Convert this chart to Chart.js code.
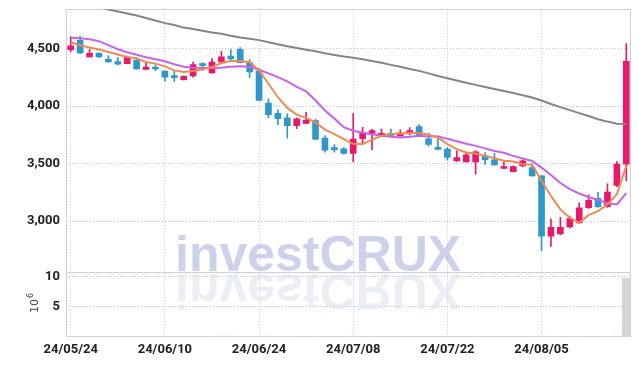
<!DOCTYPE html>
<html>
<head>
<meta charset="utf-8">
<script src="https://cdn.jsdelivr.net/npm/chart.js@4.4.1/dist/chart.umd.min.js"></script>
<style>
html, body { margin: 0; padding: 0; background: #fff; }
#wrap { width: 639px; height: 366px; position: relative; }
</style>
</head>
<body>
<div id="wrap"><canvas id="chart"></canvas></div>
<script>
// trading days (yy/mm/dd)
const dates = [
    '24/05/24', '24/05/27', '24/05/28', '24/05/29', '24/05/30', '24/05/31', '24/06/03', '24/06/04', '24/06/05', '24/06/07',
    '24/06/10', '24/06/11', '24/06/12', '24/06/13', '24/06/14', '24/06/17', '24/06/18', '24/06/19', '24/06/20', '24/06/21',
    '24/06/24', '24/06/25', '24/06/26', '24/06/27', '24/06/28', '24/07/01', '24/07/02', '24/07/03', '24/07/04', '24/07/05',
    '24/07/08', '24/07/09', '24/07/10', '24/07/11', '24/07/12', '24/07/15', '24/07/16', '24/07/17', '24/07/18', '24/07/19',
    '24/07/22', '24/07/23', '24/07/24', '24/07/25', '24/07/26', '24/07/29', '24/07/30', '24/07/31', '24/08/01', '24/08/02',
    '24/08/05', '24/08/06', '24/08/07', '24/08/08', '24/08/09', '24/08/12', '24/08/13', '24/08/14', '24/08/16', '24/08/19'
];

const opens = [
    4491, 4572, 4427, 4459, 4406, 4386, 4369, 4398, 4319, 4334,
    4304, 4264, 4229, 4261, 4363, 4287, 4383, 4435, 4494, 4378,
    4304, 4025, 3937, 3897, 3830, 3850, 3873, 3722, 3640, 3628,
    3588, 3716, 3762, 3745, 3754, 3740, 3762, 3821, 3716, 3635,
    3626, 3524, 3515, 3515, 3567, 3532, 3457, 3430, 3480, 3465,
    3393, 2869, 2888, 2950, 2984, 3116, 3198, 3125, 3311, 3495
];
const highs = [
    4601, 4607, 4494, 4462, 4439, 4421, 4434, 4421, 4374, 4360,
    4305, 4310, 4262, 4383, 4378, 4413, 4476, 4491, 4509, 4404,
    4325, 4063, 3967, 3932, 3897, 3946, 3885, 3743, 3666, 3640,
    3937, 3815, 3797, 3800, 3800, 3794, 3812, 3838, 3766, 3742,
    3640, 3611, 3596, 3611, 3596, 3590, 3515, 3480, 3535, 3500,
    3395, 3020, 3034, 3043, 3160, 3227, 3250, 3325, 3518, 4544
];
const lows = [
    4470, 4456, 4425, 4420, 4380, 4357, 4369, 4320, 4317, 4308,
    4217, 4214, 4226, 4252, 4308, 4285, 4380, 4398, 4375, 4246,
    4045, 3897, 3838, 3722, 3804, 3848, 3705, 3600, 3600, 3582,
    3515, 3670, 3620, 3736, 3736, 3738, 3750, 3742, 3652, 3620,
    3530, 3518, 3512, 3407, 3494, 3486, 3455, 3428, 3474, 3390,
    2743, 2781, 2880, 2940, 2980, 3110, 3120, 3120, 3300, 3349
];
const closes = [
    4523, 4462, 4459, 4427, 4383, 4365, 4424, 4322, 4339, 4322,
    4252, 4247, 4258, 4360, 4351, 4383, 4427, 4409, 4378, 4296,
    4048, 3926, 3891, 3830, 3888, 3879, 3713, 3617, 3620, 3588,
    3713, 3766, 3786, 3762, 3745, 3766, 3786, 3745, 3666, 3623,
    3553, 3553, 3576, 3603, 3535, 3489, 3474, 3474, 3524, 3393,
    2869, 2947, 2947, 3023, 3116, 3180, 3125, 3253, 3495, 4389
];

// moving averages
const ma5 = [
    4555, 4529, 4509, 4491, 4470, 4448, 4427, 4413, 4383, 4369,
    4345, 4310, 4296, 4304, 4319, 4339, 4374, 4392, 4392, 4383,
    4310, 4194, 4077, 3984, 3926, 3897, 3858, 3795, 3757, 3713,
    3670, 3670, 3709, 3742, 3757, 3762, 3766, 3766, 3751, 3727,
    3670, 3626, 3596, 3588, 3567, 3547, 3524, 3518, 3495, 3489,
    3349, 3218, 3102, 3029, 2985, 3052, 3087, 3145, 3233, 3480
];
const ma20 = [
    4593, 4590, 4581, 4564, 4529, 4494, 4468, 4446, 4424, 4406,
    4389, 4363, 4341, 4332, 4330, 4330, 4332, 4341, 4345, 4341,
    4316, 4284, 4252, 4214, 4166, 4127, 4048, 3961, 3891, 3817,
    3786, 3769, 3755, 3742, 3733, 3727, 3733, 3742, 3735, 3736,
    3716, 3694, 3672, 3654, 3632, 3610, 3594, 3567, 3545, 3524,
    3465, 3401, 3331, 3278, 3240, 3209, 3183, 3156, 3145, 3244
];
const ma120 = [
    4918, 4896, 4878, 4858, 4839, 4822, 4804, 4787, 4765, 4743,
    4721, 4704, 4682, 4669, 4654, 4640, 4629, 4612, 4596, 4586,
    4573, 4555, 4538, 4520, 4505, 4490, 4476, 4459, 4444, 4430,
    4420, 4406, 4392, 4376, 4358, 4341, 4323, 4306, 4284, 4262,
    4242, 4223, 4203, 4184, 4166, 4149, 4131, 4114, 4094, 4074,
    4048, 4018, 3991, 3965, 3939, 3913, 3886, 3865, 3847, 3845
];

// volume in millions
const volumes = [
    0.05, 0.04, 0.03, 0.03, 0.04, 0.03, 0.03, 0.04, 0.03, 0.03,
    0.05, 0.04, 0.03, 0.06, 0.04, 0.06, 0.2, 0.2, 0.08, 0.06,
    0.08, 0.2, 0.08, 0.06, 0.05, 0.04, 0.06, 0.06, 0.04, 0.04,
    0.2, 0.06, 0.05, 0.04, 0.03, 0.03, 0.04, 0.05, 0.05, 0.04,
    0.05, 0.04, 0.05, 0.06, 0.04, 0.04, 0.03, 0.03, 0.04, 0.06,
    0.2, 0.08, 0.06, 0.06, 0.08, 0.06, 0.06, 0.08, 0.2, 9.8
];

const priceTicks = [3000, 3500, 4000, 4500];
const volumeTicks = [5, 10];

const UP = '#e8196b';
const DOWN = '#2f97ca';
const GRID = '#c3c6dc';
const FRAME = '#cfcfd6';

const candleColors = closes.map((c, i) => c >= opens[i] ? UP : DOWN);

Chart.defaults.font.family = 'Roboto';

// fundo: marca d'agua + moldura
const backdrop = {
    id: 'backdrop',
    beforeDatasetsDraw(chart) {
        const { ctx, chartArea } = chart;
        const y = chart.scales.y, yv = chart.scales.yv;
        ctx.save();
        ctx.font = 'bold 50px "Liberation Sans"';
        ctx.textAlign = 'left';
        ctx.textBaseline = 'alphabetic';
        const base = 271;
        ctx.fillStyle = 'rgba(176,186,222,0.65)';
        ctx.fillText('investCRUX', 175, base);
        ctx.translate(0, base * 2 + 3);
        ctx.scale(1, -1);
        ctx.fillStyle = 'rgba(200,206,228,0.35)';
        ctx.fillText('investCRUX', 175, base);
        ctx.restore();

        ctx.save();
        ctx.strokeStyle = FRAME;
        ctx.lineWidth = 1;
        ctx.strokeRect(chartArea.left + 0.5, Math.round(y.top) + 0.5, chartArea.right - chartArea.left - 1, yv.bottom - Math.round(y.top) - 1);
        ctx.beginPath();
        ctx.moveTo(chartArea.left, Math.round(y.bottom) + 0.5);
        ctx.lineTo(chartArea.right, Math.round(y.bottom) + 0.5);
        ctx.stroke();
        ctx.restore();
    },
    afterDraw(chart) {
        const { ctx } = chart;
        ctx.save();
        ctx.translate(38, 313);
        ctx.rotate(-Math.PI / 2);
        ctx.fillStyle = '#444';
        ctx.textBaseline = 'alphabetic';
        ctx.font = '11px "DejaVu Sans"';
        ctx.fillText('10', 0, 0);
        const w = ctx.measureText('10').width;
        ctx.font = '8px "DejaVu Sans"';
        ctx.fillText('6', w + 1, -5);
        ctx.restore();
    }
};

const tickFont = { size: 13, weight: 'bold' };

// largura fixa e sem padding extra nos eixos verticais
function fitLeftAxis(s) {
    s.width = 66;
    s.paddingTop = 0;
    s.paddingBottom = 0;
}

new Chart(document.getElementById('chart'), {
    type: 'bar',
    data: {
        labels: dates,
        datasets: [
            {
                type: 'line', label: 'MA5', data: ma5, yAxisID: 'y', order: 0,
                borderColor: '#ee8a52', borderWidth: 2, pointRadius: 0, tension: 0
            },
            {
                type: 'line', label: 'MA20', data: ma20, yAxisID: 'y', order: 0,
                borderColor: '#c862ec', borderWidth: 2, pointRadius: 0, tension: 0
            },
            {
                type: 'line', label: 'MA120', data: ma120, yAxisID: 'y', order: 0,
                borderColor: '#858585', borderWidth: 2, pointRadius: 0, tension: 0
            },
            {
                label: 'wick', data: lows.map((l, i) => [l, highs[i]]), yAxisID: 'y', order: 2,
                backgroundColor: candleColors, barThickness: 1, grouped: false
            },
            {
                label: 'body', data: opens.map((o, i) => [o, closes[i]]), yAxisID: 'y', order: 1,
                backgroundColor: candleColors, barThickness: 6, grouped: false, minBarLength: 2
            },
            {
                label: 'volume', data: volumes, yAxisID: 'yv', order: 3,
                backgroundColor: '#d5d5db', barPercentage: 0.95, categoryPercentage: 1, grouped: false
            }
        ]
    },
    options: {
        responsive: true,
        maintainAspectRatio: false,
        animation: false,
        layout: { padding: { top: 9.3, right: 8, left: 0, bottom: 0 } },
        plugins: {
            legend: { display: false },
            tooltip: { enabled: false }
        },
        scales: {
            x: {
                type: 'category',
                offset: true,
                grid: {
                    offset: false,
                    drawTicks: false,
                    color: ctx => ctx.index % 10 === 0 ? GRID : 'rgba(0,0,0,0)'
                },
                border: { display: false, dash: [1, 2] },
                ticks: {
                    autoSkip: false,
                    maxRotation: 0,
                    padding: 5,
                    color: '#222',
                    font: tickFont,
                    callback: (v, i) => i % 10 === 0 ? dates[i] : ''
                },
                afterFit: s => { s.height = 29; }
            },
            yv: {
                type: 'linear',
                position: 'left',
                stack: 'price',
                stackWeight: 1,
                min: 0,
                max: 10.8,
                grid: { drawTicks: false, color: GRID },
                border: { display: false, dash: [1, 2] },
                ticks: { padding: 6, color: '#222', font: tickFont, callback: v => v },
                afterBuildTicks: s => { s.ticks = volumeTicks.map(v => ({ value: v })); },
                afterFit: fitLeftAxis
            },
            y: {
                type: 'linear',
                position: 'left',
                stack: 'price',
                stackWeight: 4.04,
                min: 2558,
                max: 4841,
                grid: { drawTicks: false, color: GRID },
                border: { display: false, dash: [1, 2] },
                ticks: { padding: 6, color: '#222', font: tickFont, callback: v => v.toLocaleString('en-US') },
                afterBuildTicks: s => { s.ticks = priceTicks.map(v => ({ value: v })); },
                afterFit: fitLeftAxis
            }
        }
    },
    plugins: [backdrop]
});
</script>
</body>
</html>
